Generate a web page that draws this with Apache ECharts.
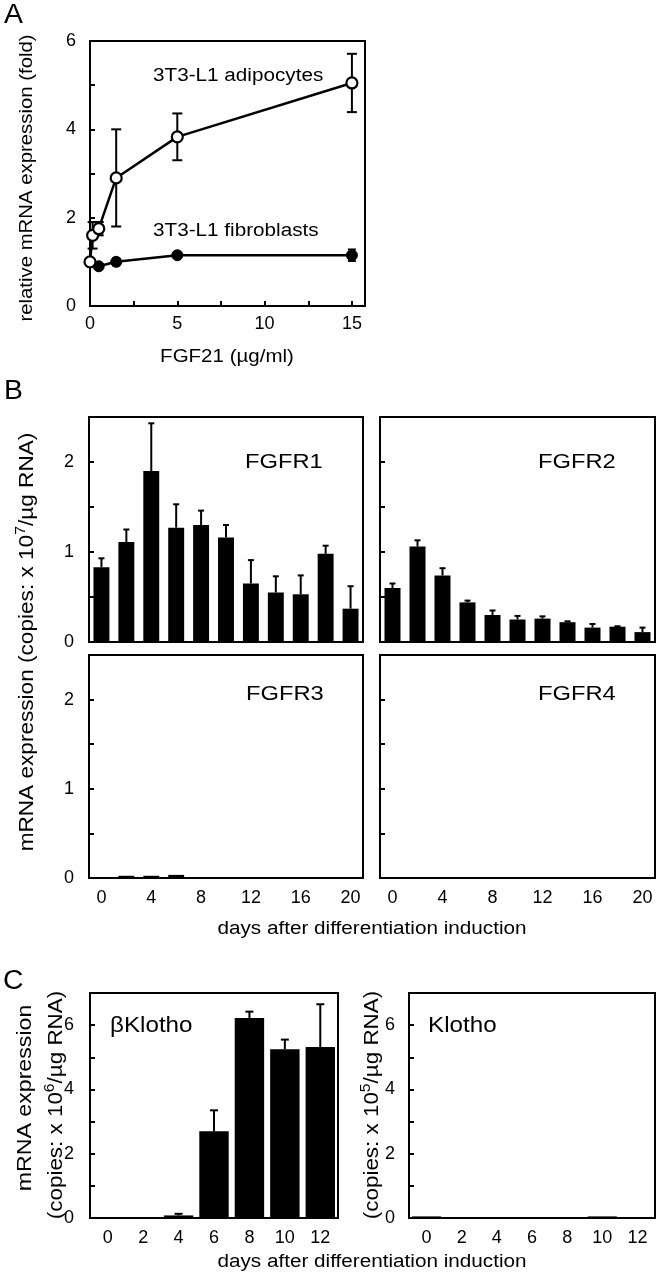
<!DOCTYPE html>
<html>
<head>
<meta charset="utf-8">
<script src="https://cdn.jsdelivr.net/npm/echarts@6/dist/echarts.min.js"></script>
<style>
html,body{margin:0;padding:0;background:#fff;}
#c{width:657px;height:1280px;}
</style>
</head>
<body>
<div id="c"></div>
<script>
// ---------- Data ----------
// Panel A
const doseAdipo = [0, 0.15, 0.5, 1.5, 5, 15];
const adipoMean = [1.0, 1.6, 1.75, 2.9, 3.83, 5.05];
const adipoErr  = [0.0, 0.3, 0.15, 1.1, 0.53, 0.66];
const doseFibro = [0, 0.5, 1.5, 5, 15];
const fibroMean = [1.0, 0.9, 1.0, 1.15, 1.15];
const fibroErr  = [0.0, 0.05, 0.08, 0.05, 0.13];
const aXTicks = [0, 5, 10, 15];
const aYTicks = [0, 2, 4, 6];
// Panel B
const daysB = ['0','2','4','6','8','10','12','14','16','18','20'];
const fgfr1 = [0.83, 1.11, 1.90, 1.27, 1.30, 1.16, 0.65, 0.55, 0.53, 0.98, 0.37];
const fgfr1Err = [0.10, 0.14, 0.53, 0.26, 0.16, 0.14, 0.26, 0.18, 0.21, 0.09, 0.25];
const fgfr2 = [0.60, 1.06, 0.74, 0.44, 0.30, 0.25, 0.26, 0.22, 0.16, 0.17, 0.11];
const fgfr2Err = [0.05, 0.07, 0.08, 0.02, 0.05, 0.04, 0.025, 0.01, 0.04, 0.005, 0.05];
const fgfr3 = [0, 0.025, 0.025, 0.035, 0, 0, 0, 0, 0, 0, 0];
const fgfr4 = [0, 0, 0, 0, 0, 0, 0, 0, 0, 0, 0];
const bYTicks = [0, 1, 2];
// Panel C
const daysC = ['0','2','4','6','8','10','12'];
const bKlotho = [0, 0, 0.08, 2.70, 6.22, 5.25, 5.32];
const bKlothoErr = [0, 0, 0.05, 0.65, 0.20, 0.30, 1.33];
const klotho = [0.05, 0.02, 0.02, 0.02, 0.02, 0.05, 0.02];
const cYTicks = [0, 2, 4, 6];

// ---------- Helpers ----------
const FONT = '"Liberation Sans", Arial, Helvetica, sans-serif';
const chart = echarts.init(document.getElementById('c'), null, {renderer: 'canvas'});

function errBarItem(capHalf, both) {
  return function (params, api) {
    const x = api.value(0), lo = api.value(1), hi = api.value(2);
    if (hi - lo <= 0) return null;
    const p1 = api.coord([x, lo]);
    const p2 = api.coord([x, hi]);
    const style = {stroke: '#000', lineWidth: 2};
    const children = [
      {type: 'line', shape: {x1: p1[0], y1: p1[1], x2: p2[0], y2: p2[1]}, style},
      {type: 'line', shape: {x1: p2[0] - capHalf, y1: p2[1], x2: p2[0] + capHalf, y2: p2[1]}, style}
    ];
    if (both) children.push({type: 'line', shape: {x1: p1[0] - capHalf, y1: p1[1], x2: p1[0] + capHalf, y2: p1[1]}, style});
    return {type: 'group', children};
  };
}

const grids = [
  {left: 90, top: 41, width: 275, height: 265},   // A
  {left: 89, top: 417, width: 274, height: 225},  // FGFR1
  {left: 380, top: 417, width: 275, height: 225}, // FGFR2
  {left: 89, top: 655, width: 274, height: 223},  // FGFR3
  {left: 380, top: 655, width: 275, height: 223}, // FGFR4
  {left: 90, top: 993, width: 248, height: 225},  // bKlotho
  {left: 409, top: 993, width: 246, height: 225}  // Klotho
].map(g => Object.assign({show: true, borderColor: '#000', borderWidth: 2, backgroundColor: 'transparent'}, g));

const labelStyle = {color: '#000', fontSize: 18, fontFamily: FONT};
const axisLine = {show: true, onZero: false, lineStyle: {color: '#000', width: 2}};

function catX(gi, data, showLabels) {
  return {
    type: 'category', gridIndex: gi, data: data,
    axisLine: axisLine,
    axisTick: {show: false},
    axisLabel: Object.assign({show: showLabels, interval: data.length > 7 ? 1 : 0, margin: 11}, labelStyle),
    splitLine: {show: false}
  };
}
function valY(gi, max, interval, ticks, showLabels, margin) {
  return {
    type: 'value', gridIndex: gi, min: 0, max: max, interval: interval,
    axisLine: axisLine,
    axisTick: {show: true, inside: true, length: 5, lineStyle: {color: '#000', width: 2}},
    axisLabel: Object.assign({
      show: showLabels, margin: margin,
      formatter: v => (ticks.indexOf(Math.round(v * 1000) / 1000) >= 0 ? String(v) : '')
    }, labelStyle),
    splitLine: {show: false}
  };
}

const xAxes = [
  {
    type: 'value', gridIndex: 0, min: 0, max: 15.75, interval: 2.5,
    axisLine: axisLine,
    axisTick: {show: true, inside: true, length: 5, lineStyle: {color: '#000', width: 2}},
    axisLabel: Object.assign({margin: 9, showMaxLabel: false,
      formatter: v => (aXTicks.indexOf(v) >= 0 ? String(v) : '')}, labelStyle),
    splitLine: {show: false}
  },
  catX(1, daysB, false),
  catX(2, daysB, false),
  catX(3, daysB, true),
  catX(4, daysB, true),
  catX(5, daysC, true),
  catX(6, daysC, true)
];
const yAxes = [
  valY(0, 6, 1, aYTicks, true, 14),
  valY(1, 2.5, 0.5, bYTicks, true, 15),
  valY(2, 2.5, 0.5, bYTicks, false, 15),
  valY(3, 2.5, 0.5, bYTicks, true, 15),
  valY(4, 2.5, 0.5, bYTicks, false, 15),
  valY(5, 7, 1, cYTicks, true, 16),
  valY(6, 7, 1, cYTicks, true, 14)
];

function barSeries(i, vals, width) {
  return {
    type: 'bar', xAxisIndex: i, yAxisIndex: i, data: vals, barWidth: width,
    itemStyle: {color: '#000'}, silent: true, z: 2
  };
}
function errSeries(i, vals, errs, cap) {
  return {
    type: 'custom', xAxisIndex: i, yAxisIndex: i,
    data: vals.map((v, k) => [k, v, v + errs[k]]),
    encode: {x: 0, y: [1, 2]},
    renderItem: errBarItem(cap, false), z: 3, silent: true
  };
}

const series = [
  // Panel A error bars
  {
    type: 'custom', xAxisIndex: 0, yAxisIndex: 0,
    data: doseFibro.map((d, k) => [d, fibroMean[k] - fibroErr[k], fibroMean[k] + fibroErr[k]]),
    encode: {x: 0, y: [1, 2]}, renderItem: errBarItem(4, true), z: 2, silent: true
  },
  {
    type: 'custom', xAxisIndex: 0, yAxisIndex: 0,
    data: doseAdipo.map((d, k) => [d, adipoMean[k] - adipoErr[k], adipoMean[k] + adipoErr[k]]),
    encode: {x: 0, y: [1, 2]}, renderItem: errBarItem(5, true), z: 2, silent: true
  },
  {
    type: 'line', xAxisIndex: 0, yAxisIndex: 0,
    data: doseFibro.map((d, k) => [d, fibroMean[k]]),
    symbol: 'circle', symbolSize: 11, showAllSymbol: true,
    lineStyle: {color: '#000', width: 2.5},
    itemStyle: {color: '#000', borderColor: '#000', borderWidth: 1},
    z: 4, silent: true, animation: false
  },
  {
    type: 'line', xAxisIndex: 0, yAxisIndex: 0,
    data: doseAdipo.map((d, k) => [d, adipoMean[k]]),
    symbol: 'circle', symbolSize: 11, showAllSymbol: true,
    lineStyle: {color: '#000', width: 2.5},
    itemStyle: {color: '#fff', borderColor: '#000', borderWidth: 2.2},
    z: 5, silent: true, animation: false
  },
  // Panel B
  barSeries(1, fgfr1, '64%'), errSeries(1, fgfr1, fgfr1Err, 3),
  barSeries(2, fgfr2, '64%'), errSeries(2, fgfr2, fgfr2Err, 3),
  barSeries(3, fgfr3, '64%'),
  barSeries(4, fgfr4, '64%'),
  // Panel C
  barSeries(5, bKlotho, '83%'), errSeries(5, bKlotho, bKlothoErr, 4),
  barSeries(6, klotho, '83%')
];

// horizontally widened text (reference typeface is broader than Liberation Sans)
function txt(text, x, y, size, sx, align) {
  return {
    type: 'text', x: x, y: y, scaleX: sx, silent: true,
    style: {text: text, fill: '#000', fontSize: size, fontFamily: FONT,
      textAlign: align || 'left', textVerticalAlign: 'middle'}
  };
}
function vtxt(x, y, richText, size, sx) {
  return {
    type: 'text', x: x, y: y, rotation: Math.PI / 2, scaleX: sx, silent: true,
    style: {
      text: richText, fill: '#000', fontFamily: FONT,
      textAlign: 'center', textVerticalAlign: 'middle',
      rich: {
        t: {fontSize: size, fontFamily: FONT, color: '#000', lineHeight: size + 6},
        s: {fontSize: Math.round(size * 0.7), fontFamily: FONT, color: '#000', lineHeight: size + 6, verticalAlign: 'top'}
      }
    }
  };
}

const graphic = [
  txt('A', 4, 16, 27, 1.05),
  txt('B', 4, 392, 27, 1.05),
  txt('C', 3, 982, 27, 1.05),
  txt('3T3-L1 adipocytes', 153, 76, 18, 1.15),
  txt('3T3-L1 fibroblasts', 153, 231, 18, 1.15),
  txt('FGF21 (µg/ml)', 227, 357, 18, 1.14, 'center'),
  txt('FGFR1', 245, 462, 21, 1.13),
  txt('FGFR2', 538, 462, 21, 1.13),
  txt('FGFR3', 246, 694, 21, 1.13),
  txt('FGFR4', 538, 694, 21, 1.13),
  txt('days after differentiation induction', 372, 929, 18, 1.15, 'center'),
  txt('βKlotho', 110, 1026, 22, 1.1),
  txt('Klotho', 428, 1026, 22, 1.1),
  txt('days after differentiation induction', 372, 1262, 18, 1.15, 'center'),
  vtxt(27, 178, '{t|relative mRNA expression (fold)}', 18, 1.13),
  vtxt(27, 642, '{t|mRNA expression (copies: x 10}{s|7}{t|/µg RNA)}', 20, 1.13),
  vtxt(25, 1098, '{t|mRNA expression}', 20.5, 1.13),
  vtxt(56, 1105, '{t|(copies: x 10}{s|6}{t|/µg RNA)}', 20, 1.12),
  vtxt(372, 1105, '{t|(copies: x 10}{s|5}{t|/µg RNA)}', 20, 1.12)
];

chart.setOption({
  animation: false,
  backgroundColor: '#fff',
  grid: grids,
  xAxis: xAxes,
  yAxis: yAxes,
  series: series,
  graphic: graphic
});
</script>
</body>
</html>
